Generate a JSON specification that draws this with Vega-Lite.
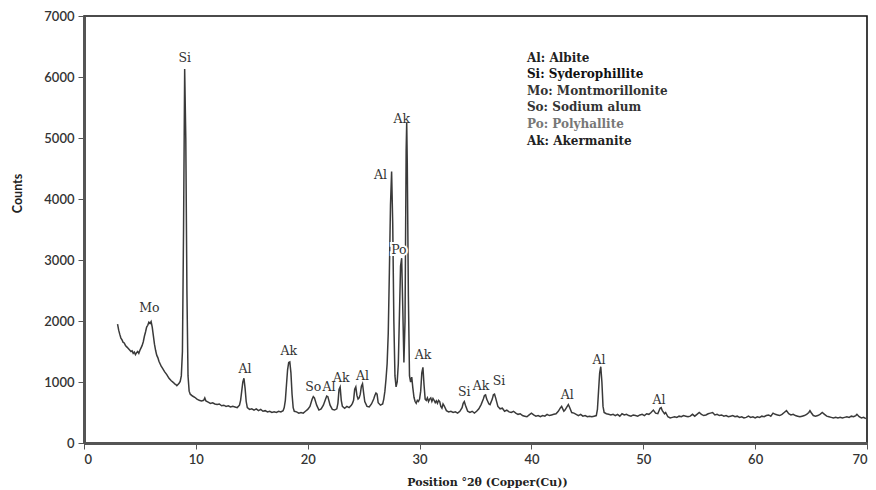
{
  "$schema": "https://vega.github.io/schema/vega-lite/v6.json",
  "autosize": "none",
  "width": 783,
  "height": 427,
  "padding": {"left": 84, "top": 16, "right": 9, "bottom": 47},
  "background": "white",
  "config": {
    "view": {"stroke": "#111", "strokeWidth": 1.6},
    "axis": {"grid": false, "domainColor": "#555", "domainWidth": 3, "tickColor": "#555", "tickSize": 6, "labelFont": "Lato", "labelFontSize": 13, "labelFontWeight": 600, "labelColor": "#333", "labelPadding": 4, "titleFont": "Lato", "titleFontWeight": "bold", "titleColor": "#222"}
  },
  "datasets": {
    "spectrum": [
      {"t":3.0,"c":1950},{"t":3.1,"c":1850},{"t":3.2,"c":1780},{"t":3.3,"c":1720},{"t":3.4,"c":1690},{"t":3.5,"c":1650},{"t":3.6,"c":1640},{"t":3.7,"c":1600},{"t":3.8,"c":1580},{"t":3.9,"c":1560},{"t":4.0,"c":1540},{"t":4.1,"c":1520},{"t":4.2,"c":1500},{"t":4.3,"c":1510},{"t":4.4,"c":1470},{"t":4.5,"c":1490},{"t":4.6,"c":1450},{"t":4.7,"c":1480},{"t":4.8,"c":1500},{"t":4.9,"c":1470},{"t":5.0,"c":1520},{"t":5.1,"c":1560},{"t":5.2,"c":1600},{"t":5.3,"c":1660},{"t":5.4,"c":1750},{"t":5.5,"c":1820},{"t":5.6,"c":1900},{"t":5.7,"c":1930},{"t":5.8,"c":1980},{"t":5.9,"c":1960},{"t":6.0,"c":1990},{"t":6.1,"c":1900},{"t":6.2,"c":1760},{"t":6.3,"c":1620},{"t":6.4,"c":1520},{"t":6.5,"c":1440},{"t":6.6,"c":1400},{"t":6.7,"c":1340},{"t":6.8,"c":1300},{"t":6.9,"c":1260},{"t":7.0,"c":1230},{"t":7.2,"c":1170},{"t":7.4,"c":1120},{"t":7.6,"c":1060},{"t":7.8,"c":1020},{"t":8.0,"c":990},{"t":8.1,"c":970},{"t":8.2,"c":960},{"t":8.3,"c":940},{"t":8.4,"c":960},{"t":8.5,"c":980},{"t":8.6,"c":1010},{"t":8.7,"c":1100},{"t":8.8,"c":1500},{"t":8.9,"c":3500},{"t":9.0,"c":6130},{"t":9.1,"c":5000},{"t":9.2,"c":2500},{"t":9.3,"c":1100},{"t":9.4,"c":850},{"t":9.5,"c":800},{"t":9.7,"c":770},{"t":9.9,"c":750},{"t":10.1,"c":720},{"t":10.3,"c":700},{"t":10.5,"c":690},{"t":10.7,"c":700},{"t":10.8,"c":740},{"t":10.9,"c":690},{"t":11.1,"c":670},{"t":11.3,"c":650},{"t":11.5,"c":660},{"t":11.7,"c":640},{"t":11.9,"c":630},{"t":12.1,"c":640},{"t":12.3,"c":610},{"t":12.5,"c":620},{"t":12.7,"c":600},{"t":12.9,"c":610},{"t":13.1,"c":590},{"t":13.3,"c":600},{"t":13.5,"c":590},{"t":13.7,"c":580},{"t":13.9,"c":620},{"t":14.0,"c":700},{"t":14.1,"c":850},{"t":14.2,"c":1000},{"t":14.3,"c":1060},{"t":14.4,"c":900},{"t":14.5,"c":680},{"t":14.6,"c":580},{"t":14.8,"c":550},{"t":15.0,"c":560},{"t":15.2,"c":540},{"t":15.4,"c":560},{"t":15.6,"c":530},{"t":15.8,"c":550},{"t":16.0,"c":520},{"t":16.2,"c":530},{"t":16.4,"c":510},{"t":16.6,"c":520},{"t":16.8,"c":500},{"t":17.0,"c":510},{"t":17.2,"c":500},{"t":17.4,"c":520},{"t":17.6,"c":510},{"t":17.8,"c":530},{"t":17.9,"c":580},{"t":18.0,"c":700},{"t":18.1,"c":950},{"t":18.2,"c":1200},{"t":18.3,"c":1320},{"t":18.4,"c":1330},{"t":18.5,"c":1150},{"t":18.6,"c":800},{"t":18.7,"c":580},{"t":18.8,"c":520},{"t":19.0,"c":510},{"t":19.2,"c":490},{"t":19.4,"c":500},{"t":19.6,"c":490},{"t":19.8,"c":520},{"t":20.0,"c":550},{"t":20.2,"c":600},{"t":20.4,"c":720},{"t":20.5,"c":760},{"t":20.6,"c":740},{"t":20.8,"c":620},{"t":21.0,"c":540},{"t":21.2,"c":560},{"t":21.4,"c":620},{"t":21.6,"c":720},{"t":21.7,"c":770},{"t":21.8,"c":760},{"t":22.0,"c":620},{"t":22.2,"c":550},{"t":22.4,"c":540},{"t":22.6,"c":560},{"t":22.7,"c":650},{"t":22.8,"c":880},{"t":22.9,"c":920},{"t":23.0,"c":700},{"t":23.1,"c":600},{"t":23.3,"c":570},{"t":23.5,"c":600},{"t":23.7,"c":580},{"t":23.9,"c":620},{"t":24.0,"c":650},{"t":24.1,"c":700},{"t":24.2,"c":880},{"t":24.3,"c":920},{"t":24.4,"c":780},{"t":24.5,"c":720},{"t":24.6,"c":740},{"t":24.7,"c":800},{"t":24.8,"c":930},{"t":24.9,"c":970},{"t":25.0,"c":820},{"t":25.1,"c":680},{"t":25.3,"c":600},{"t":25.5,"c":590},{"t":25.7,"c":640},{"t":25.9,"c":720},{"t":26.0,"c":780},{"t":26.1,"c":820},{"t":26.2,"c":800},{"t":26.3,"c":660},{"t":26.5,"c":620},{"t":26.7,"c":640},{"t":26.8,"c":720},{"t":26.9,"c":850},{"t":27.0,"c":1050},{"t":27.1,"c":1300},{"t":27.2,"c":1800},{"t":27.3,"c":2800},{"t":27.4,"c":3900},{"t":27.5,"c":4450},{"t":27.6,"c":3600},{"t":27.7,"c":2000},{"t":27.8,"c":1100},{"t":27.9,"c":920},{"t":28.0,"c":1000},{"t":28.1,"c":1300},{"t":28.2,"c":2100},{"t":28.3,"c":2900},{"t":28.4,"c":3030},{"t":28.5,"c":2200},{"t":28.6,"c":1320},{"t":28.7,"c":2000},{"t":28.8,"c":4800},{"t":28.85,"c":5260},{"t":28.9,"c":4600},{"t":29.0,"c":2400},{"t":29.1,"c":1100},{"t":29.2,"c":1000},{"t":29.3,"c":1080},{"t":29.4,"c":900},{"t":29.5,"c":750},{"t":29.6,"c":680},{"t":29.7,"c":650},{"t":29.8,"c":700},{"t":29.9,"c":680},{"t":30.0,"c":720},{"t":30.1,"c":850},{"t":30.2,"c":1150},{"t":30.3,"c":1240},{"t":30.4,"c":950},{"t":30.5,"c":720},{"t":30.6,"c":700},{"t":30.7,"c":740},{"t":30.8,"c":680},{"t":30.9,"c":720},{"t":31.0,"c":740},{"t":31.1,"c":680},{"t":31.2,"c":730},{"t":31.3,"c":700},{"t":31.4,"c":660},{"t":31.5,"c":690},{"t":31.6,"c":650},{"t":31.7,"c":700},{"t":31.8,"c":680},{"t":31.9,"c":600},{"t":32.0,"c":570},{"t":32.1,"c":640},{"t":32.2,"c":610},{"t":32.4,"c":530},{"t":32.6,"c":510},{"t":32.8,"c":520},{"t":33.0,"c":500},{"t":33.2,"c":510},{"t":33.4,"c":490},{"t":33.6,"c":520},{"t":33.8,"c":580},{"t":33.9,"c":650},{"t":34.0,"c":680},{"t":34.1,"c":620},{"t":34.3,"c":520},{"t":34.5,"c":500},{"t":34.7,"c":520},{"t":34.9,"c":490},{"t":35.1,"c":520},{"t":35.3,"c":560},{"t":35.5,"c":630},{"t":35.7,"c":720},{"t":35.8,"c":780},{"t":35.9,"c":790},{"t":36.0,"c":720},{"t":36.2,"c":640},{"t":36.3,"c":630},{"t":36.5,"c":720},{"t":36.6,"c":790},{"t":36.7,"c":800},{"t":36.8,"c":740},{"t":37.0,"c":600},{"t":37.2,"c":560},{"t":37.4,"c":570},{"t":37.6,"c":520},{"t":37.8,"c":540},{"t":38.0,"c":510},{"t":38.2,"c":500},{"t":38.4,"c":520},{"t":38.6,"c":490},{"t":38.8,"c":470},{"t":39.0,"c":480},{"t":39.2,"c":450},{"t":39.4,"c":440},{"t":39.6,"c":430},{"t":39.8,"c":460},{"t":40.0,"c":490},{"t":40.2,"c":460},{"t":40.4,"c":440},{"t":40.6,"c":450},{"t":40.8,"c":430},{"t":41.0,"c":450},{"t":41.2,"c":440},{"t":41.4,"c":470},{"t":41.6,"c":450},{"t":41.8,"c":460},{"t":42.0,"c":470},{"t":42.2,"c":480},{"t":42.4,"c":520},{"t":42.6,"c":580},{"t":42.7,"c":600},{"t":42.8,"c":560},{"t":42.9,"c":520},{"t":43.0,"c":540},{"t":43.2,"c":600},{"t":43.3,"c":630},{"t":43.4,"c":590},{"t":43.6,"c":500},{"t":43.8,"c":490},{"t":44.0,"c":470},{"t":44.2,"c":450},{"t":44.4,"c":470},{"t":44.6,"c":440},{"t":44.8,"c":450},{"t":45.0,"c":430},{"t":45.2,"c":440},{"t":45.4,"c":430},{"t":45.6,"c":440},{"t":45.8,"c":450},{"t":45.9,"c":550},{"t":46.0,"c":850},{"t":46.1,"c":1150},{"t":46.2,"c":1250},{"t":46.3,"c":1000},{"t":46.4,"c":600},{"t":46.5,"c":500},{"t":46.7,"c":480},{"t":46.9,"c":470},{"t":47.1,"c":460},{"t":47.3,"c":470},{"t":47.5,"c":450},{"t":47.7,"c":470},{"t":47.9,"c":440},{"t":48.1,"c":480},{"t":48.3,"c":460},{"t":48.5,"c":470},{"t":48.7,"c":450},{"t":48.9,"c":440},{"t":49.1,"c":460},{"t":49.3,"c":450},{"t":49.5,"c":440},{"t":49.7,"c":460},{"t":49.9,"c":470},{"t":50.1,"c":450},{"t":50.3,"c":480},{"t":50.5,"c":470},{"t":50.7,"c":500},{"t":50.9,"c":540},{"t":51.1,"c":490},{"t":51.3,"c":480},{"t":51.5,"c":570},{"t":51.6,"c":580},{"t":51.7,"c":530},{"t":51.9,"c":480},{"t":52.0,"c":500},{"t":52.2,"c":430},{"t":52.4,"c":410},{"t":52.6,"c":420},{"t":52.8,"c":430},{"t":53.0,"c":420},{"t":53.2,"c":440},{"t":53.4,"c":430},{"t":53.6,"c":450},{"t":53.8,"c":440},{"t":54.0,"c":430},{"t":54.2,"c":440},{"t":54.4,"c":470},{"t":54.6,"c":440},{"t":54.8,"c":470},{"t":55.0,"c":500},{"t":55.2,"c":470},{"t":55.4,"c":450},{"t":55.6,"c":460},{"t":55.8,"c":480},{"t":56.0,"c":490},{"t":56.2,"c":500},{"t":56.4,"c":460},{"t":56.6,"c":470},{"t":56.8,"c":450},{"t":57.0,"c":460},{"t":57.2,"c":440},{"t":57.4,"c":450},{"t":57.6,"c":430},{"t":57.8,"c":440},{"t":58.0,"c":450},{"t":58.2,"c":430},{"t":58.4,"c":440},{"t":58.6,"c":420},{"t":58.8,"c":430},{"t":59.0,"c":410},{"t":59.2,"c":420},{"t":59.4,"c":440},{"t":59.6,"c":420},{"t":59.8,"c":430},{"t":60.0,"c":410},{"t":60.2,"c":430},{"t":60.4,"c":420},{"t":60.6,"c":440},{"t":60.8,"c":430},{"t":61.0,"c":450},{"t":61.2,"c":460},{"t":61.4,"c":440},{"t":61.6,"c":490},{"t":61.8,"c":470},{"t":62.0,"c":460},{"t":62.2,"c":450},{"t":62.4,"c":470},{"t":62.6,"c":500},{"t":62.8,"c":530},{"t":63.0,"c":480},{"t":63.2,"c":460},{"t":63.4,"c":470},{"t":63.6,"c":450},{"t":63.8,"c":440},{"t":64.0,"c":430},{"t":64.2,"c":440},{"t":64.4,"c":450},{"t":64.6,"c":470},{"t":64.8,"c":500},{"t":64.9,"c":530},{"t":65.0,"c":500},{"t":65.2,"c":450},{"t":65.4,"c":440},{"t":65.6,"c":450},{"t":65.8,"c":470},{"t":66.0,"c":500},{"t":66.2,"c":470},{"t":66.4,"c":440},{"t":66.6,"c":430},{"t":66.8,"c":420},{"t":67.0,"c":410},{"t":67.2,"c":420},{"t":67.4,"c":410},{"t":67.6,"c":420},{"t":67.8,"c":410},{"t":68.0,"c":420},{"t":68.2,"c":430},{"t":68.4,"c":420},{"t":68.6,"c":440},{"t":68.8,"c":430},{"t":69.0,"c":450},{"t":69.1,"c":470},{"t":69.3,"c":430},{"t":69.5,"c":410},{"t":69.7,"c":420},{"t":69.9,"c":400}
    ],
    "peaks": [
      {"label":"Mo","t":5.85,"c":2210},
      {"label":"Si","t":9.0,"c":6310},
      {"label":"Al","t":14.4,"c":1213},
      {"label":"Ak","t":18.3,"c":1513},
      {"label":"So","t":20.5,"c":923},
      {"label":"Al","t":21.9,"c":913},
      {"label":"Ak","t":23.0,"c":1060},
      {"label":"Al","t":24.9,"c":1098},
      {"label":"Al","t":26.5,"c":4393},
      {"label":"Ak","t":28.4,"c":5305},
      {"label":"Po","t":28.15,"c":3165},
      {"label":"Ak","t":30.3,"c":1440},
      {"label":"Si","t":34.0,"c":841},
      {"label":"Ak","t":35.5,"c":934},
      {"label":"Si","t":37.1,"c":1021},
      {"label":"Al","t":43.2,"c":787},
      {"label":"Al","t":46.05,"c":1360},
      {"label":"Al","t":51.4,"c":705}
    ],
    "key": [
      {"text":"Al: Albite","t":39.6,"c":6310},
      {"text":"Si: Syderophillite","t":39.6,"c":6048},
      {"text":"Mo: Montmorillonite","t":39.6,"c":5778},
      {"text":"So: Sodium alum","t":39.6,"c":5507},
      {"text":"Po: Polyhallite","t":39.6,"c":5228},
      {"text":"Ak: Akermanite","t":39.6,"c":4950}
    ]
  },
  "layer": [
    {
      "data": {"name": "spectrum"},
      "mark": {"type": "line", "color": "#3a3a3a", "strokeWidth": 1.5},
      "encoding": {
        "x": {"field": "t", "type": "quantitative", "scale": {"domain": [0, 70], "nice": false},
          "axis": {"values": [0,10,20,30,40,50,60,70], "format": "d", "title": "Position °2θ (Copper(Cu))", "titleFont": "DejaVu Serif", "titleFontSize": 11, "titleX": 403, "titleY": 39, "titleBaseline": "middle", "titleAlign": "center"}},
        "y": {"field": "c", "type": "quantitative", "scale": {"domain": [0, 7000], "nice": false},
          "axis": {"values": [0,1000,2000,3000,4000,5000,6000,7000], "format": "d", "title": "Counts", "titleFontSize": 12.5, "titleX": -67, "titleY": 177, "titleAngle": -90, "titleAlign": "center", "titleBaseline": "middle"}}
      }
    },
    {
      "data": {"name": "peaks"},
      "transform": [{"filter": "datum.label === 'Po'"}],
      "mark": {"type": "text", "font": "DejaVu Serif", "fontSize": 12.5, "color": "white", "stroke": "white", "strokeWidth": 4, "baseline": "middle", "align": "center"},
      "encoding": {
        "x": {"field": "t", "type": "quantitative"},
        "y": {"field": "c", "type": "quantitative"},
        "text": {"field": "label"}
      }
    },
    {
      "data": {"name": "peaks"},
      "mark": {"type": "text", "font": "DejaVu Serif", "fontSize": 12.5, "color": "#333", "baseline": "middle", "align": "center"},
      "encoding": {
        "x": {"field": "t", "type": "quantitative"},
        "y": {"field": "c", "type": "quantitative"},
        "text": {"field": "label"}
      }
    },
    {
      "data": {"name": "key"},
      "mark": {"type": "text", "font": "DejaVu Serif", "fontSize": 12, "fontWeight": "bold", "baseline": "middle", "align": "left"},
      "encoding": {
        "x": {"field": "t", "type": "quantitative"},
        "y": {"field": "c", "type": "quantitative"},
        "text": {"field": "text"},
        "color": {"field": "text", "type": "nominal", "legend": null,
          "scale": {"domain": ["Al: Albite","Si: Syderophillite","Mo: Montmorillonite","So: Sodium alum","Po: Polyhallite","Ak: Akermanite"], "range": ["#222","#111","#333","#333","#777","#222"]}}
      }
    }
  ]
}
